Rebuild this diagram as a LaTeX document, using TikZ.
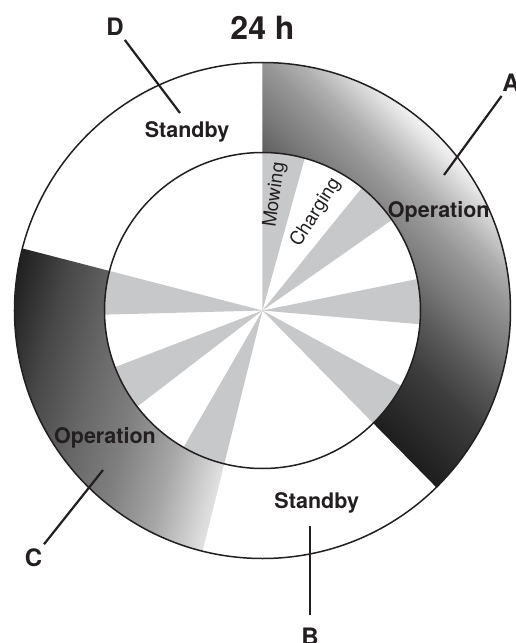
\documentclass[tikz,border=0pt]{standalone}
\usepackage{fontspec}
\setmainfont{TeX Gyre Heros}
\definecolor{WheelInk}{HTML}{231F20}
\definecolor{WheelGrey}{HTML}{C7C8CA}
% ring gradients (dark -> light), fitted to a 500pt square
\pgfdeclarehorizontalshading{opAshade}{100bp}{rgb(0bp)=(0.12,0.12,0.12); rgb(50bp)=(0.12,0.12,0.12);
  rgb(57bp)=(0.24,0.24,0.24); rgb(61bp)=(0.36,0.36,0.36); rgb(64bp)=(0.47,0.47,0.47);
  rgb(67.5bp)=(0.58,0.58,0.58); rgb(70bp)=(0.68,0.68,0.68); rgb(74.5bp)=(0.94,0.94,0.94);
  rgb(100bp)=(0.94,0.94,0.94)}
\pgfdeclarehorizontalshading{opCshade}{100bp}{rgb(0bp)=(0.12,0.12,0.12); rgb(25bp)=(0.12,0.12,0.12);
  rgb(30bp)=(0.28,0.28,0.28); rgb(35bp)=(0.40,0.40,0.40); rgb(40bp)=(0.50,0.50,0.50);
  rgb(45bp)=(0.65,0.65,0.65); rgb(50bp)=(0.87,0.87,0.87); rgb(100bp)=(0.87,0.87,0.87)}

\begin{document}
\begin{tikzpicture}[
      x=1pt,y=1pt,
      phase/.style={text=WheelInk,font=\fontsize{21.5}{24}\selectfont\bfseries,anchor=base,inner sep=0pt},
      task/.style={text=WheelInk,font=\fontsize{19}{21}\selectfont,inner sep=0pt},
      letter/.style={text=WheelInk,font=\fontsize{24}{26}\selectfont\bfseries,inner sep=4pt},
      heading/.style={text=WheelInk,font=\fontsize{32}{34}\selectfont\bfseries,inner sep=0pt},
      leader/.style={draw=WheelInk,line width=2.2pt},
      rim/.style={draw=WheelInk,line width=1.5pt},
      slice/.style={fill=WheelGrey}
    ]
      \useasboundingbox (-262.5,-332.5) rectangle (252.5,310.5);
      % mowing slices
      \foreach \a/\b in {74.5/90, 35/51, -5/11.5, -45.5/-28.5, -120/-104, -159/-142.5, -194.5/-178.5}
        \fill[slice] (0,0) -- (\a:158) arc[start angle=\a, end angle=\b, radius=158] -- cycle;
      % operation rings
      \begin{scope}
        \clip (90:158) arc[start angle=90, end angle=-45.5, radius=158]
          -- (-45.5:248) arc[start angle=-45.5, end angle=90, radius=248] -- cycle;
        \shade[shading=opAshade, shading angle=45] (-250,-250) rectangle (250,250);
      \end{scope}
      \begin{scope}
        \clip (-104:158) arc[start angle=-104, end angle=-194.5, radius=158]
          -- (-194.5:248) arc[start angle=-194.5, end angle=-104, radius=248] -- cycle;
        \shade[shading=opCshade, shading angle=-15] (-250,-250) rectangle (250,250);
      \end{scope}
      \draw[rim] (0,0) circle[radius=158];
      \draw[rim] (0,0) circle[radius=248];
      \node[heading] (title) at (0,282.5) {24 h};
      \node[phase] (standbyD) at (-75.5,172.5) {Standby};
      \node[phase] (operationA) at (176.3,92.5) {Operation};
      \node[phase] (operationC) at (-157.5,-132.8) {Operation};
      \node[phase] (standbyB) at (54.2,-197.8) {Standby};
      \node[task,rotate=82] (mowing) at (12.5,115.5) {Mowing};
      \node[task,rotate=58] (charging) at (53.3,98) {Charging};
      \node[letter] (A) at (248.5,227.5) {A};
      \node[letter] (B) at (47.5,-326.5) {B};
      \node[letter] (C) at (-229,-247) {C};
      \node[letter] (D) at (-147.5,283.5) {D};
      \coordinate (tipA) at (181.5,135.5);
      \coordinate (tipB) at (47.5,-215.5);
      \coordinate (tipC) at (-159.5,-159.5);
      \coordinate (tipD) at (-82.5,197.5);
      \draw[leader] (A) -- (tipA);
      \draw[leader,shorten <=9pt] (B) -- (tipB);
      \draw[leader] (C) -- (tipC);
      \draw[leader] (D) -- (tipD);
    \end{tikzpicture}
\end{document}
